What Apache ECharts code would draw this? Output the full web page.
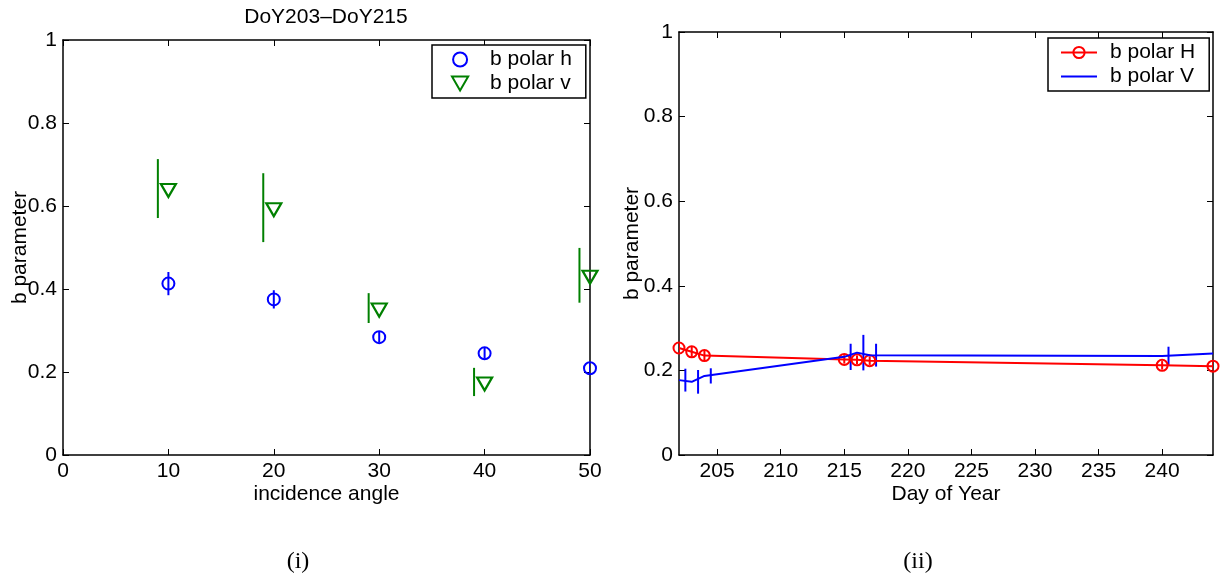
<!DOCTYPE html>
<html><head><meta charset="utf-8">
<script src="https://cdn.jsdelivr.net/npm/echarts@6/dist/echarts.min.js"></script>
<style>html,body{margin:0;padding:0;background:#fff}#c{width:1223px;height:581px}</style>
</head><body><div id="c"></div>
<script>
// ---- Panel (i): b parameter vs incidence angle (DoY203-DoY215) ----
const angles = [10, 20, 30, 40, 50];
const bH = [0.413, 0.375, 0.284, 0.245, 0.209];
const bHerr = [0.028, 0.022, 0.013, 0.013, 0.012];
const bV = [0.642, 0.596, 0.354, 0.176, 0.433];
const bVerr = [0.071, 0.083, 0.036, 0.034, 0.066];

// ---- Panel (ii): b parameter vs Day of Year ----
const days = [202, 203, 204, 215, 216, 217, 240, 244];
const bHday = [0.253, 0.244, 0.235, 0.226, 0.225, 0.223, 0.212, 0.210];
const bHdayErr = [0.012, 0.012, 0.012, 0.010, 0.010, 0.010, 0.010, 0.010];
const bVday = [0.177, 0.173, 0.187, 0.232, 0.242, 0.236, 0.234, 0.240];
const bVdayErr = [0.027, 0.028, 0.018, 0.031, 0.042, 0.027, 0.022, 0.022];
const dayTicks = [205, 210, 215, 220, 225, 230, 235, 240];

const FONT = "'Liberation Sans', Arial, sans-serif";
const FS = 21;

function errSeries(name, xs, ys, errs, dx, color, xi, yi) {
  return {
    type: 'custom', name: name, xAxisIndex: xi, yAxisIndex: yi, silent: true, clip: true, z: 3,
    data: xs.map((x, i) => [x + dx, ys[i] - errs[i], ys[i] + errs[i]]),
    encode: { x: 0, y: [1, 2] },
    renderItem: function (params, api) {
      const p1 = api.coord([api.value(0), api.value(1)]);
      const p2 = api.coord([api.value(0), api.value(2)]);
      return { type: 'line', shape: { x1: p1[0], y1: p1[1], x2: p2[0], y2: p2[1] },
        style: { stroke: color, lineWidth: 2 } };
    }
  };
}

function xAx(grid, pos, min, max, opts) {
  const a = {
    type: 'value', gridIndex: grid, position: pos, min: min, max: max,
    axisLine: { show: true, onZero: false, lineStyle: { color: '#000', width: 1.5 } },
    axisTick: { show: true, inside: true, length: 6, lineStyle: { color: '#000', width: 1 } },
    axisLabel: { show: pos === 'bottom', color: '#000', fontSize: FS, fontFamily: FONT, margin: 6 },
    splitLine: { show: false }, nameMoveOverlap: false
  };
  return Object.assign(a, opts || {});
}
function yAx(grid, pos, opts) {
  const a = {
    type: 'value', gridIndex: grid, position: pos, min: 0, max: 1, interval: 0.2,
    axisLine: { show: true, onZero: false, lineStyle: { color: '#000', width: 1.5 } },
    axisTick: { show: true, inside: true, length: 6, lineStyle: { color: '#000', width: 1 } },
    axisLabel: { show: pos === 'left', color: '#000', fontSize: FS, fontFamily: FONT, margin: 6 },
    splitLine: { show: false }, nameMoveOverlap: false
  };
  return Object.assign(a, opts || {});
}

const chart = echarts.init(document.getElementById('c'), null, { renderer: 'canvas' });
const triDown = 'path://M0,0L10,0L5,8.66Z';

chart.setOption({
  animation: false,
  backgroundColor: '#fff',
  textStyle: { fontFamily: FONT },
  grid: [
    { left: 63, top: 40, width: 527, height: 415 },
    { left: 679, top: 32, width: 534, height: 423 }
  ],
  xAxis: [
    xAx(0, 'bottom', 0, 50, { interval: 10, name: 'incidence angle', nameLocation: 'middle', nameGap: 29,
      nameTextStyle: { color: '#000', fontSize: FS, fontFamily: FONT } }),
    xAx(0, 'top', 0, 50, { interval: 10 }),
    xAx(1, 'bottom', 202, 244, { name: 'Day of Year', nameLocation: 'middle', nameGap: 29,
      nameTextStyle: { color: '#000', fontSize: FS, fontFamily: FONT },
      axisTick: { show: true, inside: true, length: 6, customValues: dayTicks, lineStyle: { color: '#000', width: 1 } },
      axisLabel: { show: true, color: '#000', fontSize: FS, fontFamily: FONT, margin: 6, customValues: dayTicks } }),
    xAx(1, 'top', 202, 244, {
      axisTick: { show: true, inside: true, length: 6, customValues: dayTicks, lineStyle: { color: '#000', width: 1 } },
      axisLabel: { show: false, customValues: dayTicks } })
  ],
  yAxis: [
    yAx(0, 'left', { name: 'b parameter', nameLocation: 'middle', nameGap: 32,
      nameTextStyle: { color: '#000', fontSize: FS, fontFamily: FONT } }),
    yAx(0, 'right'),
    yAx(1, 'left', { name: 'b parameter', nameLocation: 'middle', nameGap: 36,
      nameTextStyle: { color: '#000', fontSize: FS, fontFamily: FONT } }),
    yAx(1, 'right')
  ],
  legend: [
    {
      data: ['b polar h', 'b polar v'], orient: 'vertical', left: 432, top: 45,
      backgroundColor: '#fff', borderColor: '#000', borderWidth: 1.5,
      padding: [4, 14, 4, 19], itemGap: 3, itemWidth: 50, itemHeight: 14,
      textStyle: { color: '#000', fontSize: FS, fontFamily: FONT, lineHeight: 21 },
      selectedMode: false
    },
    {
      data: ['b polar H', { name: 'b polar V', itemStyle: { opacity: 0, color: 'rgba(0,0,0,0)', borderWidth: 0 } }],
      orient: 'vertical', left: 1048, top: 38,
      backgroundColor: '#fff', borderColor: '#000', borderWidth: 1.5,
      padding: [4, 14, 4, 12], itemGap: 3, itemWidth: 36, itemHeight: 14,
      formatter: '{a|{name}}',
      textStyle: { color: '#000', fontSize: FS, fontFamily: FONT, lineHeight: 21,
        rich: { a: { fontSize: FS, fontFamily: FONT, color: '#000', padding: [0, 0, 0, 8], lineHeight: 21 } } },
      selectedMode: false
    }
  ],
  graphic: [
    { type: 'text', x: 326, y: 17, style: { text: 'DoY203\u2013DoY215', font: FS + 'px ' + FONT, fill: '#000', align: 'center', verticalAlign: 'middle' } },
    { type: 'text', x: 298, y: 562, style: { text: '(i)', font: '24px "Liberation Serif", serif', fill: '#000', align: 'center', verticalAlign: 'middle' } },
    { type: 'text', x: 918, y: 562, style: { text: '(ii)', font: '24px "Liberation Serif", serif', fill: '#000', align: 'center', verticalAlign: 'middle' } }
  ],
  series: [
    {
      name: 'b polar h', type: 'scatter', xAxisIndex: 0, yAxisIndex: 0, z: 4,
      data: angles.map((a, i) => [a, bH[i]]),
      symbol: 'circle', symbolSize: 12,
      itemStyle: { color: 'rgba(0,0,0,0)', borderColor: '#0000ff', borderWidth: 2, opacity: 1 }
    },
    errSeries('err h', angles, bH, bHerr, 0, '#0000ff', 0, 0),
    {
      name: 'b polar v', type: 'scatter', xAxisIndex: 0, yAxisIndex: 0, z: 4,
      data: angles.map((a, i) => [a, bV[i]]),
      symbol: triDown, symbolSize: [15, 13], symbolOffset: [0, 2],
      itemStyle: { color: 'rgba(0,0,0,0)', borderColor: '#008000', borderWidth: 2.2, opacity: 1 }
    },
    errSeries('err v', angles, bV, bVerr, -1, '#008000', 0, 0),
    {
      name: 'b polar H', type: 'line', xAxisIndex: 2, yAxisIndex: 2, z: 4,
      data: days.map((d, i) => [d, bHday[i]]),
      symbol: 'circle', symbolSize: 11, showSymbol: true,
      itemStyle: { color: 'rgba(0,0,0,0)', borderColor: '#ff0000', borderWidth: 2 },
      lineStyle: { color: '#ff0000', width: 2 }
    },
    errSeries('err H', days, bHday, bHdayErr, 0, '#ff0000', 2, 2),
    {
      name: 'b polar V', type: 'line', xAxisIndex: 2, yAxisIndex: 2, z: 5,
      data: days.map((d, i) => [d, bVday[i]]),
      symbol: 'none',
      itemStyle: { color: '#0000ff' },
      lineStyle: { color: '#0000ff', width: 2 }
    },
    errSeries('err V', days, bVday, bVdayErr, 0.5, '#0000ff', 2, 2)
  ]
});
</script>
</body></html>
